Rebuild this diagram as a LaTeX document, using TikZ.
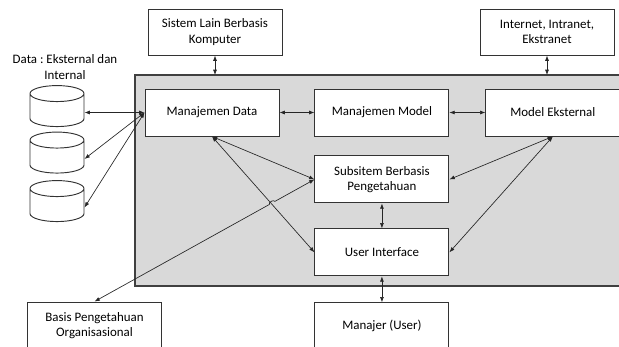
\documentclass[tikz,border=0pt]{standalone}
\usepackage{fontspec}
\setmainfont{Carlito}
\usepackage{tikz}
\usetikzlibrary{arrows.meta, shapes.geometric, positioning, calc}
\frenchspacing

\begin{document}
\begin{tikzpicture}[x=0.75pt, y=-0.75pt,
		font=\fontsize{9.7}{11.5}\selectfont,
		box/.style={draw=black!80, line width=0.7pt, fill=white, minimum width=100.5pt, minimum height=35.25pt, align=center, inner sep=2pt},
		db/.style={cylinder, shape border rotate=90, aspect=1.8, draw=black!80, line width=0.7pt, fill=white, minimum width=40.5pt, minimum height=30.75pt},
		link/.style={{Latex[length=4pt,width=3pt]}-{Latex[length=4pt,width=3pt]}, line width=0.5pt, black!85}]
		\useasboundingbox (0,0) rectangle (619,347);
		\draw[draw=black!75, fill=black!15, line width=0.8pt] (135,75) rectangle (640,286);

		\node[box] (mdata) at (212,112.5) {Manajemen Data};
		\node[box, right = 26.25pt of mdata] (mmodel) {Manajemen Model};
		\node[box, right = 27pt of mmodel] (mext) {Model Eksternal};
		\node[box, below = 14.25pt of mmodel] (subsis) {Subsitem Berbasis\\Pengetahuan};
		\node[box, below = 18.75pt of subsis] (ui) {User Interface};
		\node[box, below = 19.5pt of ui] (user) {Manajer (User)};
		\node[box, minimum height=34.5pt] (sislain) at (215,32) {Sistem Lain Berbasis\\Komputer};
		\node[box, minimum height=34.5pt] (inet) at (547,32) {Internet, Intranet,\\Ekstranet};
		\node[box] (basis) at (94.5,325.5) {Basis Pengetahuan\\Organisasional};

		\node[align=center] (datalbl) at (65,67) {Data : Eksternal dan\\Internal};
		\node[db] (db1) at (57,112.5) {};
		\node[db] (db2) at (57,159) {};
		\node[db] (db3) at (57,207.5) {};

		\draw[link] (sislain) -- (sislain |- 0,75);
		\draw[link] (inet) -- (inet |- 0,75);
		\draw[link] (db1.east) -- (mdata.west);
		\draw[link] (db2.east) -- (mdata.west);
		\draw[link] (db3.east) -- (mdata.west);
		\draw[link] (mdata) -- (mmodel);
		\draw[link] (mmodel) -- (mext);
		\draw[link] (mdata.south) -- (subsis.west);
		\draw[link] (mdata.south) -- (ui.west);
		\draw[link] (mext.south) -- (subsis.east);
		\draw[link] (mext.south) -- (ui.east);
		\draw[link] (subsis) -- (ui);
		\draw[link] (ui) -- (user);
		\draw[link] (basis.north) -- ($(basis.north)!0.795!(subsis.west)$) to[bend left=90] ($(basis.north)!0.82!(subsis.west)$) -- (subsis.west);
\end{tikzpicture}
\end{document}
